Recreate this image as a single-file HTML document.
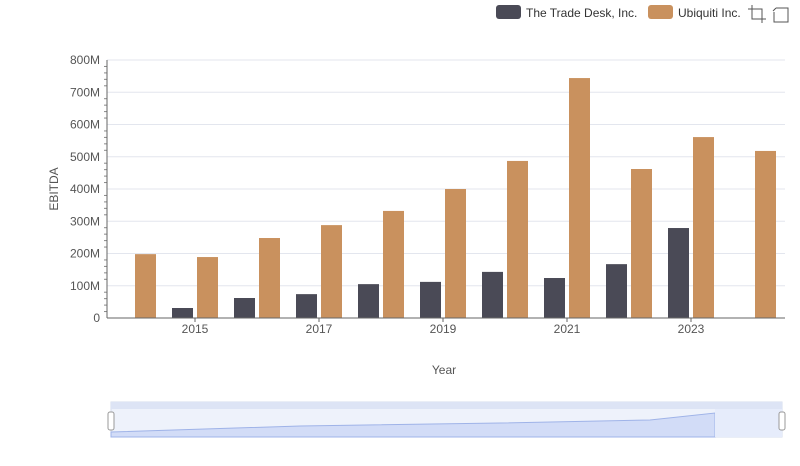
<!DOCTYPE html>
<html><head><meta charset="utf-8"><style>
body{margin:0;background:#fff;font-family:"Liberation Sans",sans-serif;}
svg text{font-family:"Liberation Sans",sans-serif;}
</style></head><body>
<svg id="chart" width="800" height="461">
<g id="grid"></g>
<g id="bars"></g>
<g id="axes"></g>
<g>
<rect x="496" y="5" width="25" height="14" rx="3" fill="#4a4a56"/>
<text x="526" y="17" font-size="12" fill="#333">The Trade Desk, Inc.</text>
<rect x="648" y="5" width="25" height="14" rx="3" fill="#c9915e"/>
<text x="678" y="17" font-size="12" fill="#333">Ubiquiti Inc.</text>
<g stroke="#555" fill="none"><path d="M748 9h14v14M752 5v14h14"/></g>
<g stroke="#555" fill="none"><path d="M776 8h12v14h-14v-10M776 8l-3 3"/></g>
</g>
<text x="58" y="189" font-size="12" fill="#555" transform="rotate(-90 58 189)" text-anchor="middle">EBITDA</text>
<text x="444" y="374" font-size="12" fill="#555" text-anchor="middle">Year</text>
<g>
<rect x="111" y="402" width="671" height="35" fill="#eef2fb" stroke="#d6dcec"/>
<rect x="111" y="402" width="671" height="7" fill="#dde4f5"/>
<path d="M111 432 L300 426 L500 423 L650 420 L715 413 L715 437 L111 437Z" fill="#d2dcf7" stroke="#9fb3e8"/>
<rect x="715" y="409" width="67" height="28" fill="#e6ecfb"/>
<rect x="108" y="412" width="6" height="18" rx="2" fill="#fff" stroke="#999"/>
<rect x="779" y="412" width="6" height="18" rx="2" fill="#fff" stroke="#999"/>
</g>
</svg>
<script>
const years=[2014,2015,2016,2017,2018,2019,2020,2021,2022,2023,2024];
const tradeDesk=[null,31,62,74,105,112,143,124,167,279,null];
const ubiquiti=[198,189,248,288,332,400,487,744,462,561,518];
const yTicks=[0,100,200,300,400,500,600,700,800];
const yLabels=["0","100M","200M","300M","400M","500M","600M","700M","800M"];
const xLabelYears=[2015,2017,2019,2021,2023];
const ns="http://www.w3.org/2000/svg";
const x0=102,step=62,yb=318,yt=60,ymax=800;
const xs=i=>x0+step*(i+0.5);
const ys=v=>yb-(yb-yt)*v/ymax;
function mk(t,a,p){const e=document.createElementNS(ns,t);for(const k in a)e.setAttribute(k,a[k]);p.appendChild(e);return e;}
const grid=document.getElementById('grid'),bars=document.getElementById('bars'),axes=document.getElementById('axes');
yTicks.forEach((v,i)=>{
 const l=mk('line',{x1:107,x2:785,y1:ys(v),y2:ys(v),stroke:'#e3e6ee'},grid);
 
 
 const t=mk('text',{x:100,y:ys(v)+4,'font-size':12,fill:'#555','text-anchor':'end'},axes);
 t.textContent=yLabels[i];
 
 
 if(i<yTicks.length-1)for(let m=1;m<5;m++){const mv=v+m*20;const ml=mk('line',{x1:104,x2:107,y1:ys(mv),y2:ys(mv),stroke:'#888'},axes);
 
 }
});
const al=mk('line',{x1:107,x2:107,y1:yt,y2:yb,stroke:'#666'},axes);


const xl=mk('line',{x1:107,x2:785,y1:yb,y2:yb,stroke:'#666'},axes);


years.forEach((y,i)=>{
 if(tradeDesk[i]!=null){const r=mk('rect',{x:xs(i)-23,y:ys(tradeDesk[i]),width:21,height:yb-ys(tradeDesk[i]),fill:'#4a4a56'},bars);
 
 }
 if(ubiquiti[i]!=null){const r=mk('rect',{x:xs(i)+2,y:ys(ubiquiti[i]),width:21,height:yb-ys(ubiquiti[i]),fill:'#c9915e'},bars);
 
 }
 if(xLabelYears.includes(y)){const t=mk('text',{x:xs(i),y:333,'font-size':12,fill:'#555','text-anchor':'middle'},axes);
 t.textContent=y;
 
 
 const tk=mk('line',{x1:xs(i),x2:xs(i),y1:yb,y2:yb+4,stroke:'#666'},axes);
 
 }
});
</script>
</body></html>
